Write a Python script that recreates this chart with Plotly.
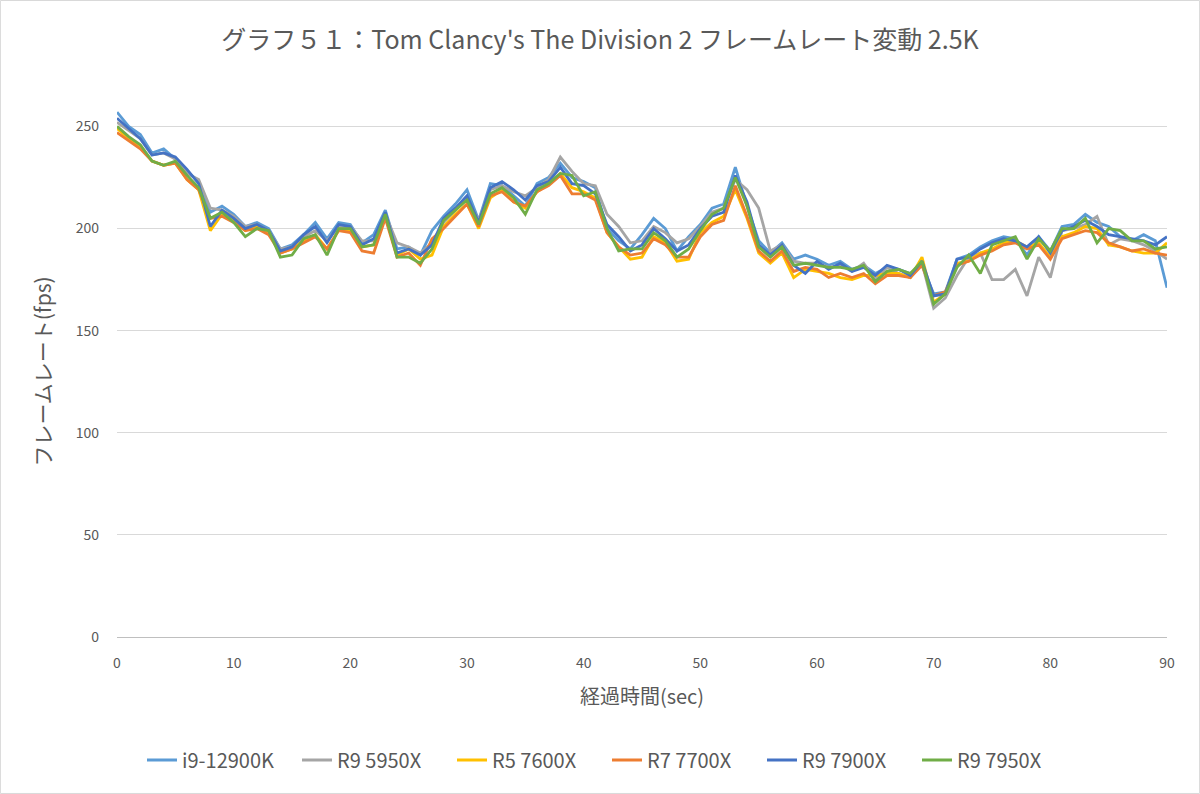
import plotly.graph_objects as go

seconds = list(range(0, 91))

i9_12900k = [257, 250, 246, 237, 239, 234, 228, 223, 208, 211, 207, 201, 203, 200, 190, 192, 197, 203, 195, 203,
             202, 193, 197, 209, 190, 191, 187, 199, 206, 212, 219, 204, 222, 221, 216, 211, 222, 225, 232, 225,
             223, 220, 200, 194, 190, 197, 205, 200, 189, 196, 202, 210, 212, 230, 211, 194, 188, 193, 185, 187,
             185, 182, 184, 180, 182, 178, 181, 180, 178, 182, 168, 169, 185, 187, 191, 194, 196, 195, 187, 196,
             189, 201, 202, 207, 203, 201, 196, 194, 197, 194, 171]
r9_5950x = [252, 248, 244, 236, 237, 234, 227, 224, 210, 209, 206, 201, 202, 199, 190, 191, 196, 199, 194, 201,
            201, 194, 194, 207, 193, 191, 188, 193, 203, 209, 215, 204, 219, 221, 218, 216, 220, 224, 235, 228,
            222, 221, 207, 201, 193, 194, 201, 198, 193, 195, 201, 208, 210, 224, 219, 210, 189, 192, 184, 183,
            183, 181, 182, 179, 183, 175, 181, 178, 176, 183, 161, 166, 177, 186, 188, 175, 175, 180, 167, 186,
            176, 199, 200, 202, 206, 192, 195, 194, 192, 189, 185]
r5_7600x = [249, 244, 240, 233, 231, 232, 224, 219, 199, 207, 204, 199, 201, 198, 188, 190, 194, 197, 190, 199,
            199, 191, 192, 206, 187, 190, 185, 187, 201, 207, 212, 200, 215, 219, 213, 210, 218, 222, 227, 220,
            218, 215, 198, 191, 185, 186, 196, 193, 184, 185, 198, 203, 206, 219, 205, 188, 183, 188, 176, 180,
            179, 178, 176, 175, 177, 177, 178, 178, 176, 186, 164, 168, 183, 184, 188, 190, 193, 194, 191, 193,
            186, 196, 198, 201, 200, 192, 191, 189, 188, 188, 193]
r7_7700x = [247, 243, 239, 233, 231, 232, 224, 219, 205, 206, 203, 199, 200, 197, 188, 190, 193, 196, 190, 199,
            198, 189, 188, 205, 186, 188, 182, 195, 200, 206, 212, 201, 216, 218, 213, 211, 218, 221, 226, 217,
            217, 214, 198, 191, 187, 188, 195, 192, 186, 186, 196, 202, 204, 221, 206, 189, 184, 189, 179, 181,
            180, 176, 178, 176, 178, 173, 177, 177, 176, 182, 167, 169, 182, 184, 187, 189, 192, 193, 190, 192,
            185, 195, 197, 199, 198, 193, 191, 189, 190, 188, 187]
r9_7900x = [254, 249, 244, 236, 237, 235, 229, 222, 201, 209, 205, 200, 202, 199, 189, 191, 197, 201, 193, 202,
            201, 192, 195, 208, 188, 190, 187, 192, 205, 210, 216, 203, 220, 223, 219, 214, 221, 223, 230, 222,
            221, 217, 202, 196, 189, 192, 200, 195, 189, 192, 200, 206, 208, 226, 213, 192, 187, 192, 182, 178,
            184, 180, 183, 179, 181, 177, 182, 180, 177, 184, 167, 168, 185, 186, 190, 193, 195, 194, 191, 196,
            188, 199, 201, 204, 201, 197, 196, 195, 194, 192, 196]
r9_7950x = [250, 245, 241, 233, 231, 233, 226, 220, 205, 208, 203, 196, 200, 199, 186, 187, 195, 197, 187, 200,
            200, 191, 192, 207, 186, 186, 183, 190, 204, 209, 214, 202, 217, 220, 215, 207, 219, 222, 227, 226,
            216, 218, 200, 189, 190, 190, 198, 194, 186, 190, 199, 207, 210, 225, 211, 191, 186, 191, 182, 183,
            182, 181, 181, 180, 182, 174, 179, 180, 178, 184, 163, 168, 181, 187, 178, 192, 194, 196, 185, 195,
            189, 200, 200, 205, 193, 200, 199, 194, 194, 190, 191]

series_names = ["i9-12900K", "R9 5950X", "R5 7600X", "R7 7700X", "R9 7900X", "R9 7950X"]
series_values = [i9_12900k, r9_5950x, r5_7600x, r7_7700x, r9_7900x, r9_7950x]
series_colors = ["#5B9BD5", "#A5A5A5", "#FFC000", "#ED7D31", "#4472C4", "#70AD47"]

x_ticks = [0, 10, 20, 30, 40, 50, 60, 70, 80, 90]
y_ticks = [0, 50, 100, 150, 200, 250]

title_text = "グラフ５１：Tom Clancy's The Division 2 フレームレート変動 2.5K"
x_title = "経過時間(sec)"
y_title = "フレームレート(fps)"

FONT = "Noto Sans CJK JP"
TXT = "#595959"

fig = go.Figure()
for name, vals, col in zip(series_names, series_values, series_colors):
    fig.add_trace(go.Scatter(x=seconds, y=vals, name=name, mode="lines",
                             line=dict(color=col, width=2.8)))

W, H = 1200, 794
ml, mr, mt, mb = 117, 33, 106, 157
pw, ph = W - ml - mr, H - mt - mb

fig.update_layout(
    width=W, height=H,
    margin=dict(l=ml, r=mr, t=mt, b=mb, pad=0),
    paper_bgcolor="white", plot_bgcolor="white",
    font=dict(family=FONT, color=TXT, size=14),
    title=dict(text=title_text, x=0.5, xref="container", xanchor="center",
               y=1 - 40 / H, yref="container", yanchor="middle",
               font=dict(size=25, color=TXT, family=FONT)),
    legend=dict(orientation="h", x=607 / W, xref="container", xanchor="center",
                y=1 - 760 / H, yref="container", yanchor="middle",
                font=dict(size=20, color=TXT), itemwidth=30,
                entrywidth=110, entrywidthmode="pixels",
                traceorder="normal"),
    xaxis=dict(range=[0, 90], tickvals=x_ticks, showgrid=False, zeroline=False,
               showline=True, linecolor="#BFBFBF", linewidth=1, ticks="",
               tickfont=dict(size=14, color=TXT), ticklabelstandoff=13,
               title=dict(text=x_title, font=dict(size=20, color=TXT), standoff=19)),
    yaxis=dict(range=[0, 260], tickvals=y_ticks, showgrid=True, gridcolor="#D9D9D9",
               gridwidth=1, zeroline=False, showline=False, ticks="",
               tickfont=dict(size=14, color=TXT), ticklabelstandoff=17,
               title=dict(text=y_title, font=dict(size=21, color=TXT), standoff=18)),
    shapes=[dict(type="rect", xref="paper", yref="paper",
                 x0=-ml / pw + 0.0004, x1=1 + mr / pw - 0.0004,
                 y0=-mb / ph + 0.001, y1=1 + mt / ph - 0.001,
                 line=dict(color="#D9D9D9", width=1), fillcolor="rgba(0,0,0,0)", layer="below")],
)

fig.write_html("out.html", config={"displayModeBar": False},
               post_script="document.body.style.margin='0px';")
